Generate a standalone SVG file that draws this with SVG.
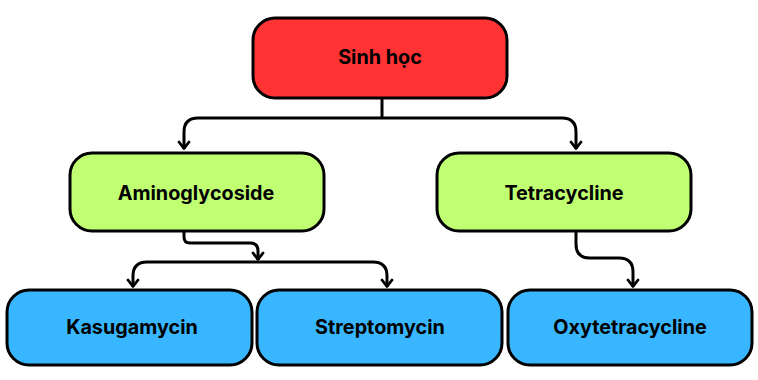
<svg xmlns="http://www.w3.org/2000/svg" width="758" height="380" viewBox="0 0 758 380">
<defs>
<style>
.n{stroke:#000;stroke-width:3}
.t{font-family:Inter,"Liberation Sans",sans-serif;font-weight:700;font-size:19.8px;fill:#000;text-anchor:middle;dominant-baseline:central}
.c{fill:none;stroke:#000;stroke-width:3;stroke-linejoin:round}
.r{fill:#FF3333}.g{fill:#C1FF72}.b{fill:#38B6FF}
</style>
<marker id="d" viewBox="0 0 14 10" refX="7" refY="9" markerWidth="14" markerHeight="10" markerUnits="userSpaceOnUse" orient="0">
<path d="M2,2 L7,8.5 L12,2" fill="none" stroke="#000" stroke-width="2.8" stroke-linecap="round" stroke-linejoin="round"/>
</marker>
</defs>
<rect width="758" height="380" fill="#fff"/>
<g id="connectors">
<path class="c" d="M382,98 V118"/>
<path class="c" d="M382,118 H198 Q184,118 184,132 V149" marker-end="url(#d)"/>
<path class="c" d="M382,118 H562 Q576,118 576,132 V149" marker-end="url(#d)"/>
<path class="c" d="M184,231 V237 Q184,243 190,243 H250 Q258,243 258,251 V260" marker-end="url(#d)"/>
<path class="c" d="M258,262 H147 Q133,262 133,276 V287" marker-end="url(#d)"/>
<path class="c" d="M258,262 H373 Q387,262 387,276 V287" marker-end="url(#d)"/>
<path class="c" d="M576,231 V244 Q576,258 590,258 H619 Q633,258 633,272 V287" marker-end="url(#d)"/>
</g>
<g id="sinh-hoc"><rect class="n r" x="253" y="18" width="254" height="80" rx="22"/><text class="t" x="380" y="57">Sinh học</text></g>
<g id="aminoglycoside"><rect class="n g" x="70" y="153" width="254" height="78" rx="22"/><text class="t" x="196" y="193">Aminoglycoside</text></g>
<g id="tetracycline"><rect class="n g" x="437" y="153" width="254" height="78" rx="22"/><text class="t" x="564" y="193">Tetracycline</text></g>
<g id="kasugamycin"><rect class="n b" x="7" y="290" width="245" height="75" rx="22"/><text class="t" x="132" y="327">Kasugamycin</text></g>
<g id="streptomycin"><rect class="n b" x="257" y="290" width="245" height="75" rx="22"/><text class="t" x="380" y="327">Streptomycin</text></g>
<g id="oxytetracycline"><rect class="n b" x="508" y="290" width="244" height="75" rx="22"/><text class="t" x="630" y="327">Oxytetracycline</text></g>
</svg>
